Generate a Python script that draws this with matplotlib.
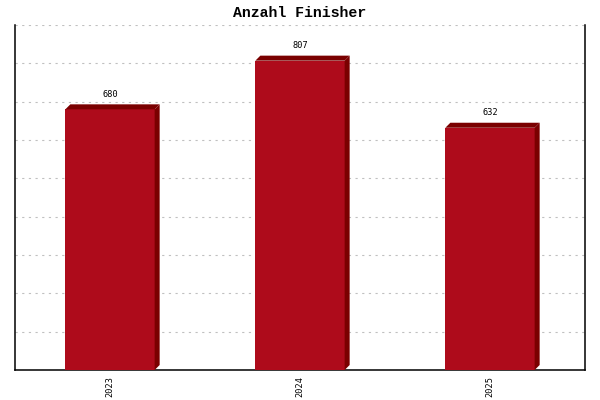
import matplotlib
matplotlib.use("Agg")
import matplotlib.pyplot as plt
from matplotlib.patches import Polygon

years = ['2023', '2024', '2025']
finisher = [680, 807, 632]

front = '#ae0b1b'
dark = '#7a0000'

fig = plt.figure(figsize=(6, 4), dpi=100)
ax = fig.add_axes([0.025, 0.075, 0.95, 0.8625])

ymax = 900
ax.set_xlim(-0.5, len(years) - 0.5)
ax.set_ylim(0, ymax)

# 3d depth: about 5 px right and 5 px up
dx = 5 / 190.0
dy = 5 * ymax / 345.0
width = 0.47

xs = list(range(len(years)))
ax.bar(xs, finisher, width=width, color=front, zorder=3)
for x, v in zip(xs, finisher):
    xl, xr = x - width / 2, x + width / 2
    side = Polygon([(xr, 0), (xr + dx, dy), (xr + dx, v + dy), (xr, v)],
                   closed=True, facecolor=dark, edgecolor='none', zorder=3)
    top = Polygon([(xl, v), (xl + dx, v + dy), (xr + dx, v + dy), (xr, v)],
                  closed=True, facecolor=dark, edgecolor='none', zorder=3)
    ax.add_patch(side)
    ax.add_patch(top)
    ax.annotate(str(v), (x, v + dy), xytext=(0, 4), textcoords='offset points',
                ha='center', va='bottom', fontsize=6.2, family='DejaVu Sans Mono')

ax.set_yticks(range(0, ymax + 1, 100))
ax.set_yticklabels([])
ax.tick_params(axis='y', length=0)
ax.grid(axis='y', color='#c0c0c0', linestyle=(0, (2, 4)), linewidth=0.8, zorder=0)

ax.set_xticks(xs)
ax.set_xticklabels(years, rotation=90, fontsize=6.2, family='DejaVu Sans Mono')
ax.tick_params(axis='x', length=0, pad=4)

ax.spines['top'].set_visible(False)
for s in ['left', 'right', 'bottom']:
    ax.spines[s].set_linewidth(1.1)
    ax.spines[s].set_color('black')

fig.suptitle('Anzahl Finisher', y=0.985, fontsize=10.7, fontweight='bold',
             family='Liberation Mono')

fig.savefig('out.png', dpi=100)
